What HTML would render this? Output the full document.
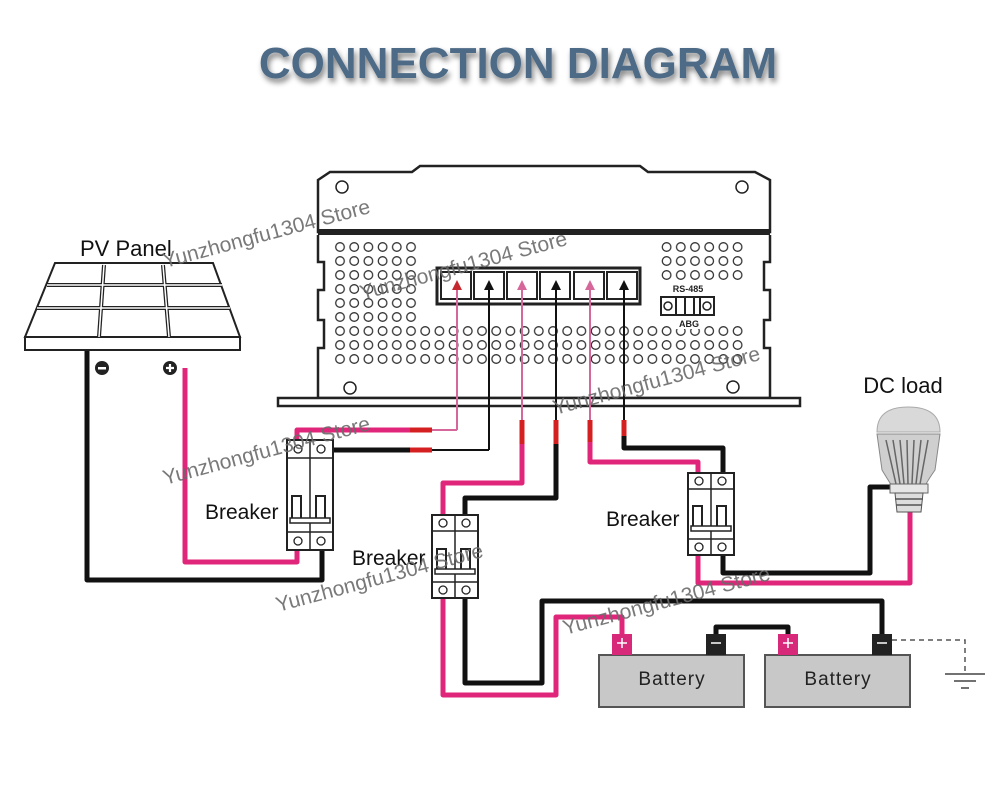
<!DOCTYPE html>
<html><head><meta charset="utf-8"><style>
html,body{margin:0;padding:0;background:#fff;width:1000px;height:800px;overflow:hidden}
svg{display:block}
.t{font-family:"Liberation Sans",sans-serif}
</style></head><body>
<svg width="1000" height="800" viewBox="0 0 1000 800" xmlns="http://www.w3.org/2000/svg">
<defs>
<filter id="sh" x="-10%" y="-50%" width="120%" height="200%"><feGaussianBlur in="SourceAlpha" stdDeviation="3"/><feOffset dx="2" dy="4"/><feComponentTransfer><feFuncA type="linear" slope="0.5"/></feComponentTransfer><feMerge><feMergeNode/><feMergeNode in="SourceGraphic"/></feMerge></filter>
<pattern id="dots" x="333" y="240" width="14.2" height="14" patternUnits="userSpaceOnUse"><circle cx="7" cy="7" r="4.3" fill="none" stroke="#333" stroke-width="1.3"/></pattern>
</defs>
<text x="518" y="78" text-anchor="middle" class="t" font-size="44" font-weight="bold" fill="#4d6a86" filter="url(#sh)">CONNECTION DIAGRAM</text>

<!-- Controller -->
<path d="M318 232 L318 180 L330 172 L412 172 L420 166 L640 166 L648 172 L755 172 L770 180 L770 232 Z" fill="#fff" stroke="#222" stroke-width="2.5"/>
<rect x="318" y="229" width="452" height="6" fill="#222"/>
<path d="M318 235 L318 262 L324 262 L324 290 L318 290 L318 320 L324 320 L324 348 L318 348 L318 398 L770 398 L770 348 L764 348 L764 320 L770 320 L770 290 L764 290 L764 262 L770 262 L770 235" fill="#fff" stroke="#222" stroke-width="2.5"/>
<path d="M278 398 L800 398 L800 406 L278 406 Z" fill="#fff" stroke="#222" stroke-width="2.5"/>
<rect x="333" y="240" width="85" height="84" fill="url(#dots)"/>
<rect x="333" y="324" width="412" height="42" fill="url(#dots)"/>
<rect x="659" y="240" width="86" height="42" fill="url(#dots)"/>
<g fill="none" stroke="#222" stroke-width="1.5">
<circle cx="342" cy="187" r="6"/><circle cx="742" cy="187" r="6"/><circle cx="350" cy="388" r="6"/><circle cx="733" cy="387" r="6"/></g>
<rect x="437" y="268" width="203" height="36" fill="#fff" stroke="#222" stroke-width="3"/>
<g fill="#fff" stroke="#222" stroke-width="2">
<rect x="441" y="272" width="30" height="27"/><rect x="474" y="272" width="30" height="27"/><rect x="507" y="272" width="30" height="27"/><rect x="540" y="272" width="30" height="27"/><rect x="574" y="272" width="30" height="27"/><rect x="607" y="272" width="30" height="27"/></g>
<rect x="664" y="283" width="50" height="12" fill="#fff"/>
<text x="688" y="292" text-anchor="middle" class="t" font-size="9" font-weight="bold" fill="#222">RS-485</text>
<rect x="661" y="297" width="53" height="18" fill="#fff" stroke="#222" stroke-width="2"/>
<circle cx="668" cy="306" r="4" fill="none" stroke="#222" stroke-width="1.5"/><circle cx="707" cy="306" r="4" fill="none" stroke="#222" stroke-width="1.5"/>
<path d="M676 297v18M685 297v18M694 297v18M700 297v18" stroke="#222" stroke-width="2"/>
<rect x="676" y="318" width="26" height="11" fill="#fff"/>
<text x="689" y="327" text-anchor="middle" class="t" font-size="9" font-weight="bold" fill="#222">ABG</text>

<!-- thin wires with arrows -->
<g stroke-width="2" fill="none">
<path d="M457 430 V282" stroke="#d6679a"/><path d="M489 450 V282" stroke="#111"/>
<path d="M522 420 V282" stroke="#d6679a"/><path d="M556 420 V282" stroke="#111"/>
<path d="M590 420 V282" stroke="#d6679a"/><path d="M624 420 V282" stroke="#111"/>
</g>
<g>
<path d="M452 290 L457 280 L462 290Z" fill="#c62830"/><path d="M484 290 L489 280 L494 290Z" fill="#111"/>
<path d="M517 290 L522 280 L527 290Z" fill="#d6679a"/><path d="M551 290 L556 280 L561 290Z" fill="#111"/>
<path d="M585 290 L590 280 L595 290Z" fill="#d6679a"/><path d="M619 290 L624 280 L629 290Z" fill="#111"/>
</g>
<path d="M457 430 H430" stroke="#d6679a" stroke-width="2"/><path d="M489 450 H430" stroke="#111" stroke-width="2"/>

<!-- thick wires -->
<g fill="none" stroke-width="5" stroke-linejoin="round">
<path d="M430 430 H297 V442" stroke="#e0267a"/>
<path d="M430 450 H322 V442" stroke="#111"/>
<path d="M297 550 V562 H185 V368" stroke="#e0267a"/>
<path d="M322 550 V580 H87 V350" stroke="#111"/>
<path d="M522 432 V483 H443 V517" stroke="#e0267a"/>
<path d="M556 432 V498 H465 V517" stroke="#111"/>
<path d="M443 598 V695 H556 V617 H622 V635" stroke="#e0267a"/>
<path d="M465 598 V683 H542 V601 H882 V635" stroke="#111"/>
<path d="M590 432 V462 H698 V475" stroke="#e0267a"/>
<path d="M624 432 V448 H723 V475" stroke="#111"/>
<path d="M698 555 V583 H910 V512" stroke="#e0267a"/>
<path d="M723 555 V573 H870 V487 H892" stroke="#111"/>
<path d="M716 635 V627 H788 V635" stroke="#111"/>
</g>
<g stroke="#d42020" stroke-width="5">
<path d="M410 430 H432"/><path d="M410 450 H432"/>
<path d="M522 420 V444"/><path d="M556 420 V444"/><path d="M590 420 V442"/><path d="M624 420 V436"/>
</g>

<!-- PV panel -->
<path d="M55 263 H213 L240 337 H25 Z" fill="#fff" stroke="#222" stroke-width="2"/>
<path d="M25 337 H240 V350 H25 Z" fill="#fff" stroke="#222" stroke-width="2"/>
<g stroke="#222" stroke-width="4" fill="none">
<path d="M47 285 H222"/><path d="M37 308 H230"/><path d="M104 265 L99 337"/><path d="M163 265 L169 337"/></g>
<g stroke="#fff" stroke-width="1.5" fill="none">
<path d="M47 285 H222"/><path d="M37 308 H230"/><path d="M104 265 L99 337"/><path d="M163 265 L169 337"/></g>
<text x="80" y="256" class="t" font-size="22" fill="#111">PV Panel</text>
<circle cx="102" cy="368" r="7" fill="#222"/><rect x="98" y="367" width="8" height="2.5" fill="#fff"/>
<circle cx="170" cy="368" r="7" fill="#222"/><path d="M166 368h8M170 364v8" stroke="#fff" stroke-width="2.2"/>

<!-- breaker 1: 287,440 h110 -->
<g fill="none" stroke="#222">
<rect x="287" y="440" width="46" height="110" fill="#fff" stroke-width="2"/>
<path d="M310 440 V550 M287 458 H333 M287 532 H333" stroke-width="1.5"/>
<circle cx="298" cy="449" r="4" stroke-width="1.3"/><circle cx="321" cy="449" r="4" stroke-width="1.3"/>
<circle cx="298" cy="541" r="4" stroke-width="1.3"/><circle cx="321" cy="541" r="4" stroke-width="1.3"/>
<path d="M292 518 V496 H301 V518 M316 518 V496 H325 V518" stroke-width="2"/>
<rect x="290" y="518" width="40" height="5" fill="#fff" stroke-width="1.5"/>
</g>
<!-- breaker 2: 432,515 h83 -->
<g fill="none" stroke="#222">
<rect x="432" y="515" width="46" height="83" fill="#fff" stroke-width="2"/>
<path d="M455 515 V598 M432 531 H478 M432 582 H478" stroke-width="1.5"/>
<circle cx="443" cy="523" r="4" stroke-width="1.3"/><circle cx="466" cy="523" r="4" stroke-width="1.3"/>
<circle cx="443" cy="590" r="4" stroke-width="1.3"/><circle cx="466" cy="590" r="4" stroke-width="1.3"/>
<path d="M437 569 V549 H446 V569 M461 569 V549 H470 V569" stroke-width="2"/>
<rect x="435" y="569" width="40" height="5" fill="#fff" stroke-width="1.5"/>
</g>
<!-- breaker 3: 688,473 h82 -->
<g fill="none" stroke="#222">
<rect x="688" y="473" width="46" height="82" fill="#fff" stroke-width="2"/>
<path d="M711 473 V555 M688 489 H734 M688 539 H734" stroke-width="1.5"/>
<circle cx="699" cy="481" r="4" stroke-width="1.3"/><circle cx="722" cy="481" r="4" stroke-width="1.3"/>
<circle cx="699" cy="547" r="4" stroke-width="1.3"/><circle cx="722" cy="547" r="4" stroke-width="1.3"/>
<path d="M693 526 V506 H702 V526 M717 526 V506 H726 V526" stroke-width="2"/>
<rect x="691" y="526" width="40" height="5" fill="#fff" stroke-width="1.5"/>
</g>
<text x="205" y="519" class="t" font-size="21" fill="#111">Breaker</text>
<text x="606" y="526" class="t" font-size="21" fill="#111">Breaker</text>
<text x="352" y="565" class="t" font-size="21" fill="#111">Breaker</text>

<!-- batteries -->
<rect x="599" y="655" width="145" height="52" fill="#c8c8c8" stroke="#555" stroke-width="2"/>
<rect x="765" y="655" width="145" height="52" fill="#c8c8c8" stroke="#555" stroke-width="2"/>
<text x="672" y="685" text-anchor="middle" class="t" font-size="19" fill="#222" letter-spacing="1">Battery</text>
<text x="838" y="685" text-anchor="middle" class="t" font-size="19" fill="#222" letter-spacing="1">Battery</text>
<rect x="612" y="634" width="20" height="21" fill="#d8287a"/><path d="M617 643h10M622 638v10" stroke="#fff" stroke-width="1.5"/>
<rect x="706" y="634" width="20" height="21" fill="#222"/><path d="M711 643h10" stroke="#fff" stroke-width="1.5"/>
<rect x="778" y="634" width="20" height="21" fill="#d8287a"/><path d="M783 643h10M788 638v10" stroke="#fff" stroke-width="1.5"/>
<rect x="872" y="634" width="20" height="21" fill="#222"/><path d="M877 643h10" stroke="#fff" stroke-width="1.5"/>

<!-- ground -->
<path d="M892 640 H965 V672" stroke="#555" stroke-width="1.5" stroke-dasharray="5,4" fill="none"/>
<path d="M945 674 H985 M954 681 H976 M961 688 H969" stroke="#444" stroke-width="1.5"/>

<!-- bulb -->
<text x="903" y="393" text-anchor="middle" class="t" font-size="22" fill="#111">DC load</text>
<path d="M877 432 Q877 407 908 407 Q940 407 940 432 Z" fill="#d9d9d9" stroke="#aaa"/>
<path d="M877 434 H940 L935 470 Q928 480 925 486 H892 Q888 480 882 470 Z" fill="#cfcfcf" stroke="#888"/>
<g stroke="#666" stroke-width="1.5"><path d="M886 440 L896 484M893 440 L900 484M900 440 L904 484M907 440 L908 484M914 440 L912 484M921 440 L916 484M928 440 L920 484"/></g>
<rect x="890" y="484" width="38" height="9" fill="#e6e6e6" stroke="#666"/>
<path d="M895 493 H923 L921 512 H897 Z" fill="#ddd" stroke="#555"/>
<path d="M895 499 H923 M896 505 H922" stroke="#555" stroke-width="1.5"/>

<!-- watermarks -->
<g class="t" font-size="21" fill="#6a6a6a" opacity="0.9">
<text transform="translate(165,268) rotate(-15)">Yunzhongfu1304 Store</text>
<text transform="translate(362,300) rotate(-15)">Yunzhongfu1304 Store</text>
<text transform="translate(555,415) rotate(-15)">Yunzhongfu1304 Store</text>
<text transform="translate(165,485) rotate(-15)">Yunzhongfu1304 Store</text>
<text transform="translate(278,612) rotate(-15)">Yunzhongfu1304 Store</text>
<text transform="translate(565,635) rotate(-15)">Yunzhongfu1304 Store</text>
</g>
</svg>
</body></html>
